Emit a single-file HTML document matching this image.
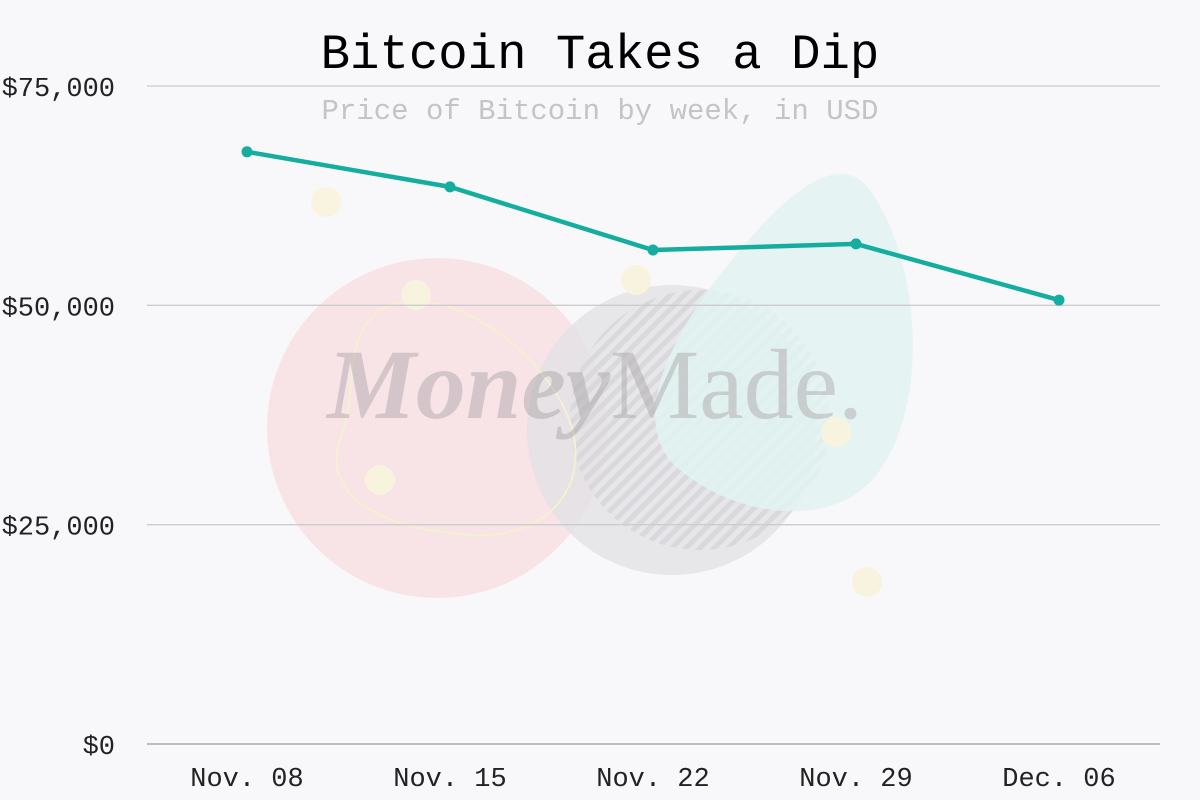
<!DOCTYPE html>
<html><head><meta charset="utf-8"><style>
body{margin:0;background:#f8f8fa;}
svg{display:block;font-family:"Liberation Mono",monospace;}
</style></head><body>
<svg width="1200" height="800" viewBox="0 0 1200 800">
<defs>
<pattern id="hatch" width="10" height="10" patternUnits="userSpaceOnUse" patternTransform="rotate(45)">
<rect width="5" height="10" fill="#d0d0d4"/>
</pattern>
</defs>
<rect width="1200" height="800" fill="#f8f8fa"/>
<g opacity="0.9">
<circle cx="437" cy="428" r="170" fill="#f9e1e6"/>
<circle cx="672" cy="430" r="145" fill="#e0e0e2" opacity="0.8"/>
<circle cx="700" cy="420" r="130" fill="url(#hatch)" opacity="0.7"/>
<path d="M740 250 C790 190 840 150 870 190 C920 260 930 400 880 470 C840 530 740 520 680 470 C620 420 680 320 740 250Z" fill="#dff3f1" opacity="0.85"/>
<path d="M380 310 C430 280 520 330 560 400 C600 470 560 540 470 535 C390 530 320 500 340 440 C360 390 340 340 380 310Z" fill="none" stroke="#f5f0cc" stroke-width="2"/>
<circle cx="326" cy="202" r="15" fill="#f8f3dc"/>
<circle cx="416" cy="295" r="15" fill="#f8f3dc"/>
<circle cx="380" cy="480" r="15" fill="#f8f3dc"/>
<circle cx="636" cy="280" r="15" fill="#f8f3dc"/>
<circle cx="836" cy="432" r="15" fill="#f8f3dc"/>
<circle cx="867" cy="582" r="15" fill="#f8f3dc"/>
<text x="595" y="418" text-anchor="middle" font-family="Liberation Serif,serif" font-size="100" fill="#a09a9c" opacity="0.45" font-style="italic" font-weight="bold">Money<tspan font-weight="normal" font-style="normal">Made.</tspan></text>
</g>
<g id="grid"></g>
<g id="yaxis"></g>
<g id="xaxis"></g>
<g id="series"></g>
<text x="600" y="68" text-anchor="middle" font-size="49" fill="#000">Bitcoin Takes a Dip</text>
<text x="600" y="119" text-anchor="middle" font-size="29" fill="#c4c4c6">Price of Bitcoin by week, in USD</text>
</svg>
<script>
const categories=["Nov. 08","Nov. 15","Nov. 22","Nov. 29","Dec. 06"];
const prices=[67500,63500,56300,57000,50600];
const yTicks=[0,25000,50000,75000];
const yTickLabels=["$0","$25,000","$50,000","$75,000"];
const NS="http://www.w3.org/2000/svg";
const x=i=>247+i*203;
const y=v=>744-v/75000*658;
function mk(t,a,p){const e=document.createElementNS(NS,t);for(const k in a)e.setAttribute(k,a[k]);p.appendChild(e);return e;}
const grid=document.getElementById('grid'),ya=document.getElementById('yaxis'),xa=document.getElementById('xaxis'),s=document.getElementById('series');
yTicks.forEach((v,i)=>{
const l=mk('line',{x1:147,x2:1160,y1:y(v),y2:y(v),stroke:v===0?'#999':'#ccc','stroke-width':1.3},grid);


const t=mk('text',{x:115,y:y(v)+10,'text-anchor':'end','font-size':27,fill:'#222'},ya);
t.textContent=yTickLabels[i];


});
categories.forEach((c,i)=>{
const t=mk('text',{x:x(i),y:786,'text-anchor':'middle','font-size':27,fill:'#222'},xa);
t.textContent=c;


});
const pl=mk('polyline',{points:prices.map((v,i)=>x(i)+','+y(v)).join(' '),fill:'none',stroke:'#14ad9f','stroke-width':4.5,'stroke-linejoin':'round'},s);


prices.forEach((v,i)=>{
const c=mk('circle',{cx:x(i),cy:y(v),r:5.5,fill:'#14ad9f'},s);


});
</script>
</body></html>
